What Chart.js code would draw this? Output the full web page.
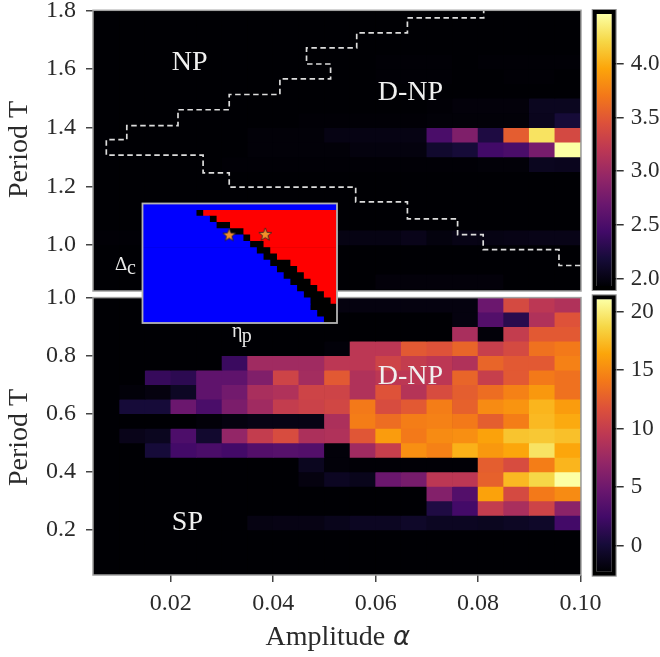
<!DOCTYPE html>
<html>
<head>
<meta charset="utf-8">
<title>Phase diagram</title>
<script src="https://cdn.jsdelivr.net/npm/chart.js@4"></script>
<style>
html, body { margin: 0; background: #fff; }
#wrap { position: relative; width: 660px; height: 657px; overflow: hidden; }
canvas { position: absolute; left: 0; top: 0; filter: blur(0.5px); }
</style>
</head>
<body>
<div id="wrap">
  <canvas id="topMap" width="660" height="657"></canvas>
  <canvas id="bottomMap" width="660" height="657"></canvas>
  <canvas id="topBar" width="660" height="657"></canvas>
  <canvas id="bottomBar" width="660" height="657"></canvas>
  <canvas id="inset" width="660" height="657"></canvas>
</div>
<script>
// column centres (amplitude) and row centres (period)
var alphas = [0.0075, 0.0125, 0.0175, 0.0225, 0.0275, 0.0325, 0.0375, 0.0425, 0.0475, 0.0525,
              0.0575, 0.0625, 0.0675, 0.0725, 0.0775, 0.0825, 0.0875, 0.0925, 0.0975];
var periodsTop = [1.775, 1.725, 1.675, 1.625, 1.575, 1.525, 1.475, 1.425, 1.375, 1.325,
                  1.275, 1.225, 1.175, 1.125, 1.075, 1.025, 0.975, 0.925, 0.875];
var periodsBottom = [0.975, 0.925, 0.875, 0.825, 0.775, 0.725, 0.675, 0.625, 0.575, 0.525,
                     0.475, 0.425, 0.375, 0.325, 0.275, 0.225, 0.175, 0.125, 0.075];

var valuesTop = [
  [1.93,1.93,1.93,1.93,1.93,1.93,1.93,1.93,1.93,1.93,1.93,1.93,1.93,1.93,1.93,1.93,1.93,1.93,1.93],
  [1.93,1.93,1.93,1.93,1.93,1.93,1.93,1.93,1.93,1.93,1.93,1.93,1.93,1.93,1.93,1.93,1.93,1.93,1.93],
  [1.93,1.93,1.93,1.93,1.93,1.93,1.93,1.93,1.93,1.93,1.93,1.93,1.93,1.93,1.93,1.93,1.93,1.93,1.93],
  [1.93,1.93,1.93,1.93,1.93,1.93,1.93,1.93,1.93,1.93,1.93,1.94,1.94,1.94,1.93,1.94,1.94,1.94,1.94],
  [1.93,1.93,1.93,1.93,1.93,1.93,1.93,1.93,1.93,1.93,1.93,1.94,1.94,1.94,1.93,1.93,1.94,1.94,1.93],
  [1.93,1.93,1.93,1.93,1.93,1.93,1.93,1.93,1.93,1.93,1.93,1.93,1.93,1.93,1.93,1.93,1.93,1.93,1.93],
  [1.93,1.93,1.93,1.93,1.93,1.93,1.93,1.93,1.93,1.93,1.93,1.93,1.93,1.94,1.96,1.96,1.96,2.06,2.06],
  [1.93,1.93,1.93,1.93,1.93,1.93,1.93,1.93,1.94,1.94,1.94,1.94,1.94,1.95,1.95,1.95,1.95,2.05,2.18],
  [1.93,1.93,1.93,1.93,1.93,1.93,1.95,1.95,1.95,2.00,2.00,2.00,2.00,2.49,2.82,2.23,3.53,4.29,3.38],
  [1.93,1.93,1.93,1.93,1.93,1.93,1.95,1.95,1.95,1.95,1.98,1.98,1.98,2.13,2.18,2.44,2.49,2.77,4.47],
  [1.93,1.93,1.93,1.93,1.93,1.94,1.94,1.94,1.94,1.94,1.94,1.94,1.94,1.94,1.94,1.95,1.95,2.06,2.05],
  [1.93,1.93,1.93,1.93,1.93,1.93,1.93,1.93,1.93,1.93,1.93,1.93,1.93,1.93,1.93,1.93,1.93,1.93,1.93],
  [1.93,1.93,1.93,1.93,1.93,1.93,1.93,1.93,1.93,1.93,1.93,1.93,1.93,1.93,1.93,1.93,1.93,1.93,1.93],
  [1.93,1.93,1.93,1.93,1.93,1.93,1.93,1.93,1.93,1.93,1.93,1.93,1.93,1.93,1.93,1.93,1.93,1.93,1.93],
  [1.93,1.93,1.93,1.93,1.93,1.93,1.93,1.93,1.93,1.93,1.93,1.93,1.93,1.93,1.93,1.93,1.93,1.93,1.93],
  [1.94,1.94,1.94,1.94,1.94,1.94,1.94,1.94,1.94,2.00,2.00,2.00,2.03,1.98,2.01,2.00,2.01,2.02,2.02],
  [1.93,1.93,1.93,1.93,1.93,1.93,1.93,1.93,1.93,1.93,1.93,1.93,1.93,1.93,1.93,1.93,1.93,1.93,1.93],
  [1.93,1.93,1.93,1.93,1.93,1.93,1.93,1.93,1.93,1.93,1.93,1.93,1.93,1.93,1.93,1.93,1.93,1.93,1.93],
  [1.93,1.93,1.93,1.93,1.93,1.93,1.93,1.93,1.93,1.93,1.93,1.96,1.96,1.96,1.96,1.96,1.93,1.93,1.93]
];

var valuesBottom = [
  [-2.2,-2.2,-2.2,-2.2,-2.2,-2.2,-2.2,-2.2,-2.2,-1.7,-1.7,-1.7,-1.7,-1.7,-1.7,4.8,11.1,9.4,8.7],
  [-2.2,-2.2,-2.2,-2.2,-2.2,-2.2,-2.2,-2.2,-2.2,-2.2,-2.2,-2.2,-2.2,-2.2,-1.7,3.4,1.1,8.7,11.8],
  [-2.2,-2.2,-2.2,-2.2,-2.2,-2.2,-2.2,-2.2,-2.2,-2.2,-2.2,-2.2,-2.2,-2.2,8.3,-2.0,9.9,12.2,12.2],
  [-2.2,-2.2,-2.2,-2.2,-2.2,-2.2,-2.2,-2.2,-2.2,-2.0,9.4,9.4,12.2,11.8,12.9,10.1,11.1,13.6,14.1],
  [-2.2,-2.2,-2.2,-2.2,-2.2,2.0,7.8,7.8,7.8,9.4,9.4,10.6,9.9,9.4,8.7,12.9,12.2,12.2,14.5],
  [-2.2,-2.2,1.8,1.3,4.1,4.1,6.0,10.6,8.0,12.2,8.7,9.4,9.4,9.4,12.9,10.1,12.2,14.1,13.6],
  [-2.2,-2.0,-1.7,-0.8,4.1,5.2,8.3,8.7,10.6,10.6,8.7,11.8,9.0,11.3,12.5,13.4,14.5,15.7,13.6],
  [-2.2,0.1,0.1,4.8,2.9,5.7,7.8,9.9,10.4,10.8,14.1,11.3,12.2,14.3,12.7,15.0,15.5,17.1,15.9],
  [-2.2,-2.2,-2.2,-2.2,-2.0,-1.7,-1.5,-1.5,-1.5,8.5,14.3,13.4,14.3,14.5,14.1,12.5,14.3,17.3,16.6],
  [-2.2,-1.3,-1.0,3.1,-0.3,7.1,9.9,11.3,8.5,8.7,12.0,15.9,14.1,15.0,15.2,16.2,17.8,18.0,17.6],
  [-2.2,-2.2,0.1,2.5,2.9,2.5,3.4,3.6,3.4,-2.0,7.8,10.1,15.2,14.5,16.9,15.7,16.4,19.4,16.4],
  [-2.2,-2.2,-2.2,-2.2,-2.2,-2.2,-2.2,-2.2,-1.0,-2.0,-2.1,-2.1,-2.1,-2.1,-2.1,12.5,11.3,14.3,17.1],
  [-2.2,-2.2,-2.2,-2.2,-2.2,-2.2,-2.2,-2.2,-1.7,-0.9,-1.2,4.8,5.5,9.4,9.4,12.7,17.3,18.7,21.0],
  [-2.2,-2.2,-2.2,-2.2,-2.2,-2.2,-2.2,-2.2,-2.2,-2.2,-2.2,-2.2,-2.2,6.2,3.4,16.2,11.1,14.1,15.0],
  [-2.2,-2.2,-2.2,-2.2,-2.2,-2.2,-2.2,-2.2,-2.2,-2.2,-2.2,-2.2,-2.2,0.6,2.5,9.9,8.3,10.6,6.6],
  [-2.2,-2.2,-2.2,-2.2,-2.2,-2.2,-1.6,-1.5,-1.5,-1.2,-0.9,-0.9,-0.6,-0.9,-0.9,-1.0,-0.8,-0.6,2.5],
  [-2.2,-2.2,-2.2,-2.2,-2.2,-2.2,-2.2,-2.2,-2.2,-2.2,-2.2,-2.2,-2.2,-2.2,-2.2,-2.2,-2.2,-2.2,-2.2],
  [-2.2,-2.2,-2.2,-2.2,-2.2,-2.2,-2.2,-2.2,-2.2,-2.2,-2.2,-2.2,-2.2,-2.2,-2.2,-2.2,-2.2,-2.2,-2.2],
  [-2.2,-2.2,-2.2,-2.2,-2.2,-2.2,-2.2,-2.2,-2.2,-2.2,-2.2,-2.2,-2.2,-2.2,-2.2,-2.2,-2.2,-2.2,-2.2]
];

// dashed phase boundary in the top panel
var contourAlpha = [0.1000, 0.0958, 0.0958, 0.0810, 0.0810, 0.0760, 0.0760, 0.0662, 0.0662, 0.0561, 0.0561, 0.0314, 0.0314,
                    0.0263, 0.0263, 0.0074, 0.0074, 0.0114, 0.0114, 0.0214, 0.0214, 0.0314, 0.0314, 0.0413, 0.0413,
                    0.0512, 0.0512, 0.0465, 0.0465, 0.0563, 0.0563, 0.0662, 0.0662, 0.0811, 0.0811];
var contourPeriod = [0.930, 0.930, 0.984, 0.984, 1.035, 1.035, 1.089, 1.089, 1.147, 1.147, 1.197, 1.197, 1.246,
                     1.246, 1.306, 1.306, 1.359, 1.359, 1.407, 1.407, 1.461, 1.461, 1.513, 1.513, 1.566,
                     1.566, 1.617, 1.617, 1.672, 1.672, 1.723, 1.723, 1.774, 1.774, 1.800];

// inset: for every row the column where black starts and where red starts
var insetBlackStart = [29, 8, 10, 11, 13, 15, 16, 17, 18, 19, 20, 21, 22, 23, 24, 25, 25, 26, 27];
var insetRedStart   = [29, 9, 11, 13, 15, 16, 18, 19, 20, 22, 23, 24, 25, 26, 27, 28, 29, 29, 29];
var insetStarX = [12.92, 18.3];
var insetStarY = [5.0, 4.9];

var xTicks = [0.02, 0.04, 0.06, 0.08, 0.10];
var topTicks = [1.0, 1.2, 1.4, 1.6, 1.8];
var bottomTicks = [0.2, 0.4, 0.6, 0.8, 1.0];
var topBarTicks = [2.0, 2.5, 3.0, 3.5, 4.0];
var bottomBarTicks = [0, 5, 10, 15, 20];

var inferno = ['#000004', '#160b39', '#420a68', '#6a176e', '#932667', '#bc3754',
               '#dd513a', '#f37819', '#fca50a', '#f6d746', '#fcffa4'];

var SERIF = '"Liberation Serif"';
var TEXT = '#2a2a2a';

Chart.defaults.animation = false;
Chart.defaults.responsive = false;
Chart.defaults.plugins.legend.display = false;
Chart.defaults.plugins.tooltip.enabled = false;

function hexRgb(h) {
  return [parseInt(h.substr(1, 2), 16), parseInt(h.substr(3, 2), 16), parseInt(h.substr(5, 2), 16)];
}

function colorOf(v, lo, hi) {
  var f = Math.max(0, Math.min(1, (v - lo) / (hi - lo))) * (inferno.length - 1);
  var i = Math.min(Math.floor(f), inferno.length - 2);
  var a = hexRgb(inferno[i]), b = hexRgb(inferno[i + 1]), t = f - i;
  return 'rgb(' + [0, 1, 2].map(function (k) { return Math.round(a[k] + (b[k] - a[k]) * t); }).join(',') + ')';
}

function heatDatasets(rows, values, lo, hi) {
  return rows.map(function (t, r) {
    return {
      type: 'bar',
      grouped: false,
      barPercentage: 1,
      categoryPercentage: 1,
      borderWidth: 0,
      data: alphas.map(function (a) { return { x: a, y: [t - 0.025, t + 0.025] }; }),
      backgroundColor: values[r].map(function (v) { return colorOf(v, lo, hi); })
    };
  });
}

function fixedTicks(list) {
  return function (scale) {
    scale.ticks = list.map(function (v) { return { value: v }; });
  };
}

// keep the plot area exactly where the padding puts it
function fixedWidth(w) {
  return function (scale) {
    scale.width = w;
    scale.paddingTop = scale.paddingBottom = 0;
  };
}

function fixedHeight(h) {
  return function (scale) {
    scale.height = h;
    scale.paddingLeft = scale.paddingRight = 0;
  };
}

function label(ctx, text, x, y, font, color, rot) {
  ctx.save();
  ctx.font = font;
  ctx.fillStyle = color;
  ctx.textBaseline = 'alphabetic';
  ctx.translate(x, y);
  if (rot) ctx.rotate(rot);
  ctx.fillText(text, 0, 0);
  ctx.restore();
}

// black plot background under the bars, grey frame over them
function panelPlugin(drawLabels) {
  return {
    id: 'panel',
    beforeDatasetsDraw: function (chart) {
      var a = chart.chartArea;
      chart.ctx.fillStyle = '#000004';
      chart.ctx.fillRect(a.left, a.top, a.width, a.height);
    },
    afterDraw: function (chart) {
      var a = chart.chartArea, ctx = chart.ctx;
      ctx.strokeStyle = '#a0a0a0';
      ctx.lineWidth = 1.5;
      ctx.strokeRect(a.left, a.top, a.width, a.height);
      drawLabels(ctx, chart);
    }
  };
}

function phase(ctx, chart, text, a, t) {
  label(ctx, text, chart.scales.x.getPixelForValue(a), chart.scales.y.getPixelForValue(t),
        '28px ' + SERIF, '#f0f0f0');
}

function mapOptions(area, xOpts, yRange, ticks) {
  return {
    layout: { autoPadding: false, padding: { left: 0, top: area.top, right: 660 - area.right, bottom: 657 - area.bottom - (xOpts.display ? 40 : 0) } },
    scales: {
      x: Object.assign({ type: 'linear', offset: false, min: 0.0048, max: 0.1001 }, xOpts),
      y: {
        type: 'linear',
        min: yRange[0],
        max: yRange[1],
        afterFit: fixedWidth(area.left),
        afterBuildTicks: fixedTicks(ticks),
        grid: { drawOnChartArea: false, tickLength: 7, color: '#444', lineWidth: 1.5 },
        border: { display: false },
        ticks: {
          autoSkip: false,
          padding: 10,
          color: TEXT,
          font: { family: SERIF, size: 24 },
          callback: function (v) { return v.toFixed(1); }
        }
      }
    }
  };
}

var topData = heatDatasets(periodsTop, valuesTop, 1.93, 4.47);
topData.unshift({
  type: 'line',
  order: -1,
  data: contourAlpha.map(function (a, i) { return { x: a, y: contourPeriod[i] }; }),
  borderColor: '#dcdcdc',
  borderWidth: 1.7,
  borderDash: [5.5, 3.5],
  pointRadius: 0,
  tension: 0
});

new Chart(document.getElementById('topMap'), {
  type: 'bar',
  data: { datasets: topData },
  options: mapOptions({ left: 93, top: 10.3, right: 581, bottom: 291 }, { display: false }, [0.843, 1.8], topTicks),
  plugins: [panelPlugin(function (ctx, chart) {
    phase(ctx, chart, 'NP', 0.0202, 1.597);
    phase(ctx, chart, 'D-NP', 0.0604, 1.494);
    label(ctx, 'Period T', 26.7, 198, '28px ' + SERIF, TEXT, -Math.PI / 2);
  })]
});

new Chart(document.getElementById('bottomMap'), {
  type: 'bar',
  data: { datasets: heatDatasets(periodsBottom, valuesBottom, -2.2, 21) },
  options: mapOptions({ left: 93, top: 297.6, right: 581, bottom: 575 }, {
    display: true,
    afterFit: fixedHeight(40),
    afterBuildTicks: fixedTicks(xTicks),
    grid: { offset: false, drawOnChartArea: false, tickLength: 7, color: '#444', lineWidth: 1.5 },
    border: { display: false },
    ticks: {
      autoSkip: false,
      maxRotation: 0,
      padding: 7,
      color: TEXT,
      font: { family: SERIF, size: 24 },
      callback: function (v) { return v.toFixed(2); }
    }
  }, [0.045, 1.0], bottomTicks),
  plugins: [panelPlugin(function (ctx, chart) {
    phase(ctx, chart, 'D-NP', 0.0604, 0.7026);
    phase(ctx, chart, 'SP', 0.0202, 0.2);
    label(ctx, 'Period T', 26.7, 486, '28px ' + SERIF, TEXT, -Math.PI / 2);
    label(ctx, 'Amplitude', 265.5, 645.3, '28px ' + SERIF, TEXT);
    label(ctx, 'α', 393, 645.3, 'italic 26px "DejaVu Sans"', TEXT);
  })]
});

function colorBar(id, lo, hi, top, bottom, ticks, fmt, size) {
  new Chart(document.getElementById(id), {
    type: 'bar',
    data: {
      labels: [''],
      datasets: [{
        data: [[lo, hi]],
        barPercentage: 1,
        categoryPercentage: 1,
        borderWidth: 0,
        backgroundColor: function (c) {
          var a = c.chart.chartArea;
          if (!a) return '#000';
          var g = c.chart.ctx.createLinearGradient(0, a.bottom, 0, a.top);
          inferno.forEach(function (col, i) { g.addColorStop(i / (inferno.length - 1), col); });
          return g;
        }
      }]
    },
    options: {
      layout: { autoPadding: false, padding: { left: 596.7, top: top, right: 0, bottom: 657 - bottom } },
      scales: {
        x: { display: false },
        y: {
          position: 'right',
          min: lo,
          max: hi,
          afterFit: fixedWidth(48.3),
          afterBuildTicks: fixedTicks(ticks),
          grid: { drawOnChartArea: false, tickLength: 12, color: '#333', lineWidth: 1.5 },
          border: { display: false },
          ticks: { autoSkip: false, padding: 7, color: TEXT, font: { family: SERIF, size: size }, callback: fmt }
        }
      }
    },
    plugins: [{
      id: 'barFrame',
      afterDraw: function (chart) {
        var a = chart.chartArea, ctx = chart.ctx;
        ctx.strokeStyle = '#909090';
        ctx.lineWidth = 1;
        ctx.strokeRect(a.left - 4.5, a.top - 4.5, a.width + 9, a.height + 9);
        ctx.strokeStyle = '#000';
        ctx.lineWidth = 4;
        ctx.strokeRect(a.left - 2, a.top - 2, a.width + 4, a.height + 4);
      }
    }]
  });
}

colorBar('topBar', 1.93, 4.466, 14, 286, topBarTicks, function (v) { return v.toFixed(1); }, 23);
colorBar('bottomBar', -2.22, 21.06, 299.3, 571.7, bottomBarTicks, function (v) { return String(v); }, 23);

// inset: three floating horizontal bars per row
var starImage = document.createElement('canvas');
starImage.width = starImage.height = 15;
(function () {
  var c = starImage.getContext('2d');
  c.beginPath();
  for (var i = 0; i < 10; i++) {
    var r = i % 2 ? 2.9 : 6.8, t = -Math.PI / 2 + i * Math.PI / 5;
    c[i ? 'lineTo' : 'moveTo'](7.5 + r * Math.cos(t), 7.8 + r * Math.sin(t));
  }
  c.closePath();
  c.fillStyle = '#f28e2b';
  c.fill();
  c.strokeStyle = '#222';
  c.lineWidth = 0.8;
  c.stroke();
})();

var insetRows = insetBlackStart.map(function (b, i) { return i + 0.5; });

function insetBand(color, from, to) {
  return {
    type: 'bar',
    grouped: false,
    barPercentage: 1,
    categoryPercentage: 1,
    borderWidth: 0,
    backgroundColor: color,
    data: insetRows.map(function (r, i) { return { y: r, x: [from(i), to(i)] }; })
  };
}

new Chart(document.getElementById('inset'), {
  type: 'bar',
  data: {
    datasets: [
      {
        type: 'scatter',
        order: -1,
        data: insetStarX.map(function (x, i) { return { x: x, y: insetStarY[i] }; }),
        pointStyle: starImage,
        pointRadius: 7
      },
      insetBand('#0000ff', function () { return 0; }, function (i) { return insetBlackStart[i]; }),
      insetBand('#000000', function (i) { return insetBlackStart[i]; }, function (i) { return insetRedStart[i]; }),
      insetBand('#ff0000', function (i) { return insetRedStart[i]; }, function () { return 29; })
    ]
  },
  options: {
    indexAxis: 'y',
    layout: { autoPadding: false, padding: { left: 142.5, top: 203.5, right: 660 - 337, bottom: 657 - 323 } },
    scales: {
      x: { type: 'linear', display: false, min: 0, max: 29 },
      y: { type: 'linear', display: false, min: 0, max: 19, reverse: true, offset: false }
    }
  },
  plugins: [{
    id: 'insetFrame',
    afterDraw: function (chart) {
      var a = chart.chartArea, ctx = chart.ctx;
      ctx.strokeStyle = '#b4b4b4';
      ctx.lineWidth = 1.8;
      ctx.strokeRect(a.left, a.top, a.width, a.height);
      label(ctx, 'Δ', 115, 270, '19px ' + SERIF, '#e8e8e8');
      label(ctx, 'c', 127, 273.5, '20px ' + SERIF, '#e8e8e8');
      label(ctx, 'η', 232, 337, '20px ' + SERIF, '#e8e8e8');
      label(ctx, 'p', 241.7, 342, '20px ' + SERIF, '#e8e8e8');
    }
  }]
});
</script>
</body>
</html>
